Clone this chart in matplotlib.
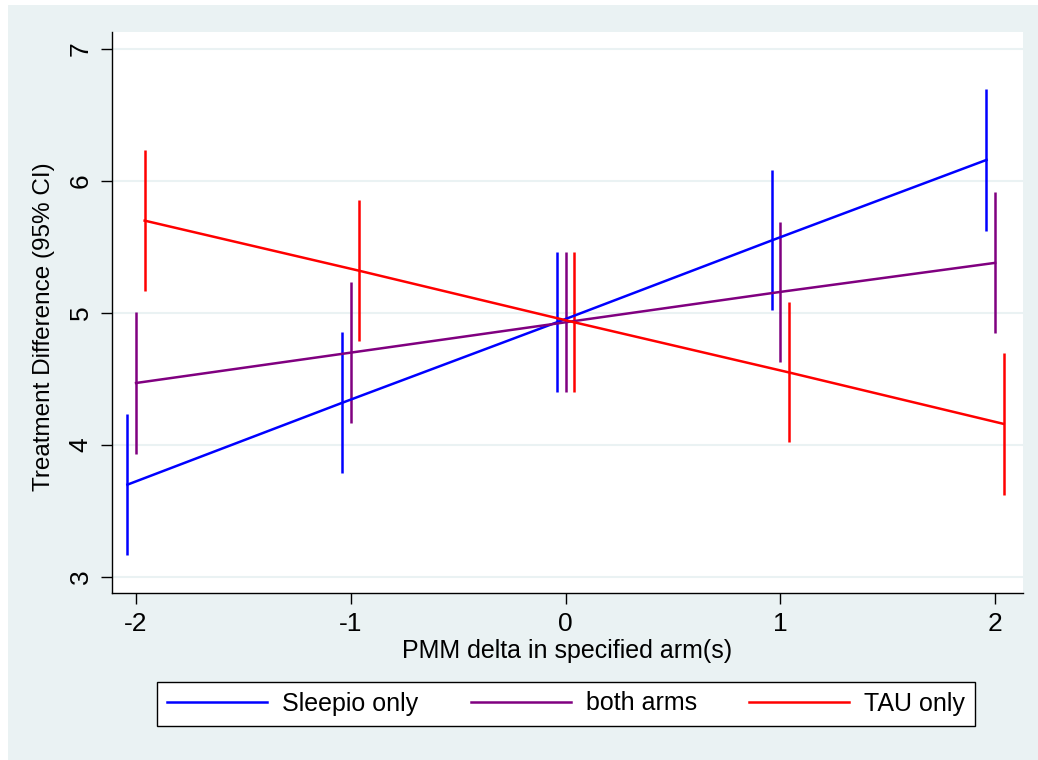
import matplotlib
matplotlib.use("Agg")
import matplotlib.pyplot as plt
from matplotlib.patches import Rectangle
from matplotlib.lines import Line2D

plt.rcParams['font.family'] = ['Liberation Sans', 'DejaVu Sans']

# data
delta = [-2, -1, 0, 1, 2]
sleepio = [3.70, 4.32, 4.93, 5.55, 6.16]
both = [4.47, 4.70, 4.93, 5.16, 5.38]
tau = [5.70, 5.32, 4.93, 4.55, 4.16]
halfwidth = [0.535, 0.535, 0.53, 0.53, 0.535]
labels = ["Sleepio only", "both arms", "TAU only"]
colors = ["#0000FF", "#800080", "#FF0000"]
offsets = [-0.04, 0.0, 0.04]

bg = "#EAF2F3"

fig = plt.figure(figsize=(10.38, 7.6), dpi=100, facecolor="white")
fig.add_artist(Rectangle((8 / 1038, 0), 1 - 8 / 1038, 755 / 760,
                         transform=fig.transFigure, facecolor=bg,
                         edgecolor="none", zorder=-10))

ax = fig.add_axes([112 / 1038, 1 - 593 / 760, (1023 - 112) / 1038, (593 - 32) / 760])
ax.set_facecolor("white")
ax.set_zorder(1)

for vals, lab, col, off in zip([sleepio, both, tau], labels, colors, offsets):
    xs = [d + off for d in delta]
    ax.errorbar(xs, vals, yerr=halfwidth, fmt="-", color=col, ecolor=col,
                elinewidth=1.8, lw=1.8, capsize=0)

ax.set_xlim(-2.112, 2.13)
ax.set_ylim(2.879, 7.129)
ax.set_xticks(delta)
ax.set_xticklabels(["-2", "-1", "0", "1", "2"])
ax.set_yticks([3, 4, 5, 6, 7])
ax.yaxis.grid(True, color=bg, lw=1.5)
ax.set_axisbelow(True)

for s in ["top", "right"]:
    ax.spines[s].set_visible(False)
for s in ["left", "bottom"]:
    ax.spines[s].set_linewidth(1.0)

ax.tick_params(axis="both", length=8, width=1.0, labelsize=19, pad=6)
plt.setp(ax.get_yticklabels(), rotation=90, va="center")

ax.set_xlabel("PMM delta in specified arm(s)", fontsize=18, labelpad=2)
ax.set_ylabel("Treatment Difference (95% CI)", fontsize=17.5)
ax.yaxis.set_label_coords(-0.063, 0.474)

handles = [Line2D([], [], color=c, lw=1.8) for c in colors]
leg = fig.legend(handles, labels, loc="center",
                 bbox_to_anchor=(157 / 1038, 1 - 727 / 760, 818 / 1038, 47 / 760),
                 mode="expand", ncol=3, fancybox=False, edgecolor="black",
                 framealpha=1, borderaxespad=0, handlelength=4.0, handletextpad=0.6,
                 fontsize=18)
leg.get_frame().set_linewidth(1.0)

fig.savefig("out.png", dpi=100, facecolor="white")
